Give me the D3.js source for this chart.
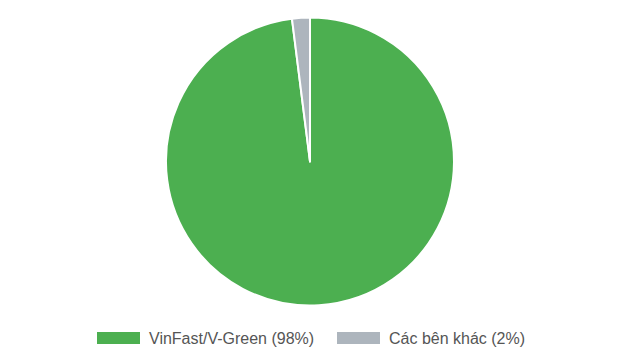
<!DOCTYPE html>
<html>
<head>
<meta charset="utf-8">
<script src="https://cdn.jsdelivr.net/npm/d3@7"></script>
<style>
  body { margin: 0; background: #fff; }
  svg { display: block; font-family: "Liberation Sans", Arial, sans-serif; }
</style>
</head>
<body>
<svg id="chart"></svg>
<script>
const labels = ["VinFast/V-Green (98%)", "Các bên khác (2%)"];
const values = [98, 2];
const colors = ["#4caf50", "#adb5bd"];

const width = 624, height = 359;
const cx = 310, cy = 161.5, radius = 144;

const svg = d3.select("#chart")
    .attr("width", width)
    .attr("height", height);

const pie = d3.pie().sort(null).value(d => d)(values);
const arc = d3.arc().innerRadius(0).outerRadius(radius);

svg.append("g")
    .attr("transform", `translate(${cx},${cy})`)
    .selectAll("path")
    .data(pie)
    .enter().append("path")
        .attr("d", arc)
        .attr("fill", (d, i) => colors[i])
        .attr("stroke", "#fff")
        .attr("stroke-width", 2)
        .attr("stroke-linejoin", "round");

// legend
const legendX = [97, 337];
const legend = svg.append("g");
labels.forEach((t, i) => {
    legend.append("rect")
        .attr("x", legendX[i])
        .attr("y", 332)
        .attr("width", 43)
        .attr("height", 12)
        .attr("fill", colors[i]);
    legend.append("text")
        .attr("x", legendX[i] + 52)
        .attr("y", 344)
        .attr("font-size", 16)
        .attr("fill", "#555")
        .text(t);
});
</script>
</body>
</html>
